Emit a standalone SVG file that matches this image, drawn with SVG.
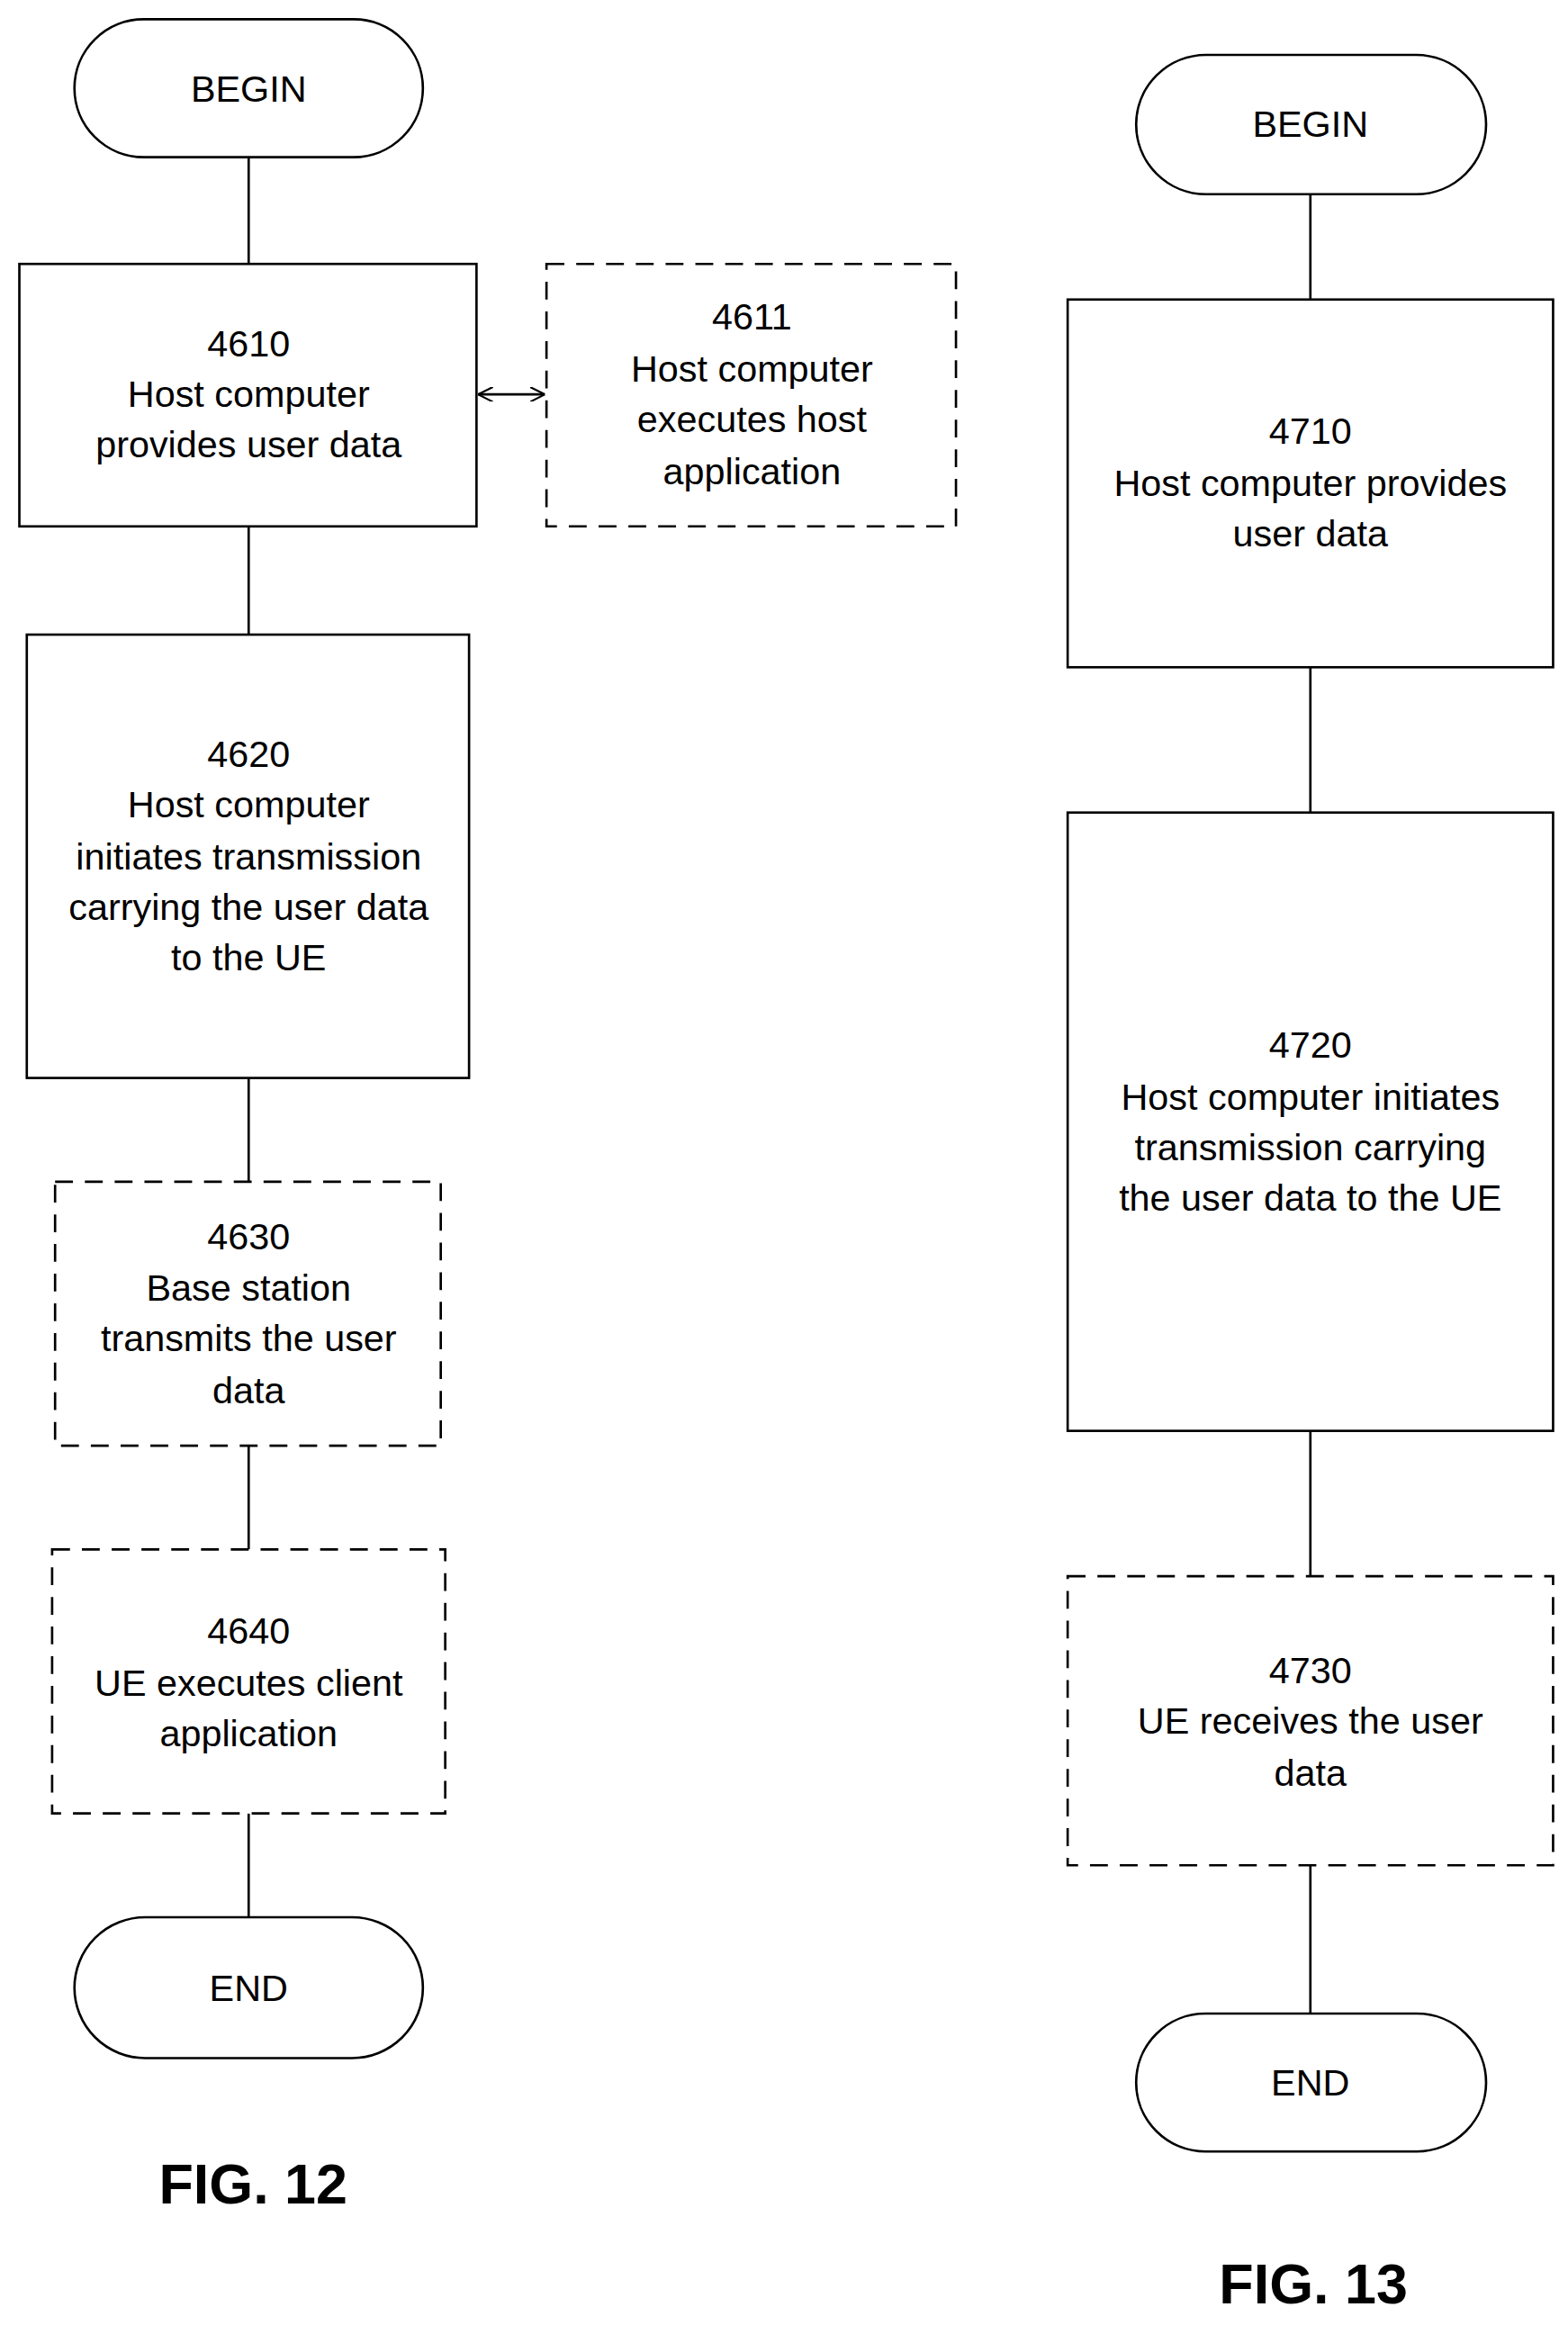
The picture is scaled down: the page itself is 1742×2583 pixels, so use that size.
<svg xmlns="http://www.w3.org/2000/svg" width="1742" height="2583" viewBox="0 0 1742 2583">
<style>
.b{fill:#fff;stroke:#000;stroke-width:1.6}
.d{fill:#fff;stroke:#000;stroke-width:1.6;stroke-dasharray:12 8}
.c line{stroke:#000;stroke-width:1.6}
text{font-family:"Liberation Sans",Arial,sans-serif;font-size:25px;text-anchor:middle;dominant-baseline:central;fill:#000}
.f{font-size:38px;font-weight:bold}
</style>
<defs><marker id="a" viewBox="0 0 10 10" refX="10" refY="5" markerWidth="10" markerHeight="10" markerUnits="userSpaceOnUse" orient="auto-start-reverse"><path d="M0,0L10,5L0,10" fill="none" stroke="#000" stroke-width="1.3"/></marker></defs>
<rect width="1742" height="2583" fill="#fff"/>
<g transform="scale(1.6543 1.6473)">
<g class="c" id="connectors">
<line x1="167" y1="106" x2="167" y2="178"/>
<line x1="321" y1="266" x2="366" y2="266" marker-start="url(#a)" marker-end="url(#a)"/>
<line x1="167" y1="355" x2="167" y2="428"/>
<line x1="167" y1="727" x2="167" y2="797"/>
<line x1="167" y1="975" x2="167" y2="1045"/>
<line x1="167" y1="1223" x2="167" y2="1293"/>
<line x1="880" y1="131" x2="880" y2="202"/>
<line x1="880" y1="450" x2="880" y2="548"/>
<line x1="880" y1="965" x2="880" y2="1063"/>
<line x1="880" y1="1258" x2="880" y2="1358"/>
</g>
<g id="begin1"><rect class="b" x="50" y="13" width="234" height="93" rx="46.5"/><text x="167" y="60">BEGIN</text></g>
<g id="n4610"><rect class="b" x="13" y="178" width="307" height="177"/><text x="167" y="232">4610</text><text x="167" y="266">Host computer</text><text x="167" y="300">provides user data</text></g>
<g id="n4611"><rect class="d" x="367" y="178" width="275" height="177"/><text x="505" y="214">4611</text><text x="505" y="249">Host computer</text><text x="505" y="283">executes host</text><text x="505" y="318">application</text></g>
<g id="n4620"><rect class="b" x="18" y="428" width="297" height="299"/><text x="167" y="509">4620</text><text x="167" y="543">Host computer</text><text x="167" y="578">initiates transmission</text><text x="167" y="612">carrying the user data</text><text x="167" y="646">to the UE</text></g>
<g id="n4630"><rect class="d" x="37" y="797" width="259" height="178"/><text x="167" y="834">4630</text><text x="167" y="869">Base station</text><text x="167" y="903">transmits the user</text><text x="167" y="938">data</text></g>
<g id="n4640"><rect class="d" x="35" y="1045" width="264" height="178"/><text x="167" y="1100">4640</text><text x="167" y="1135">UE executes client</text><text x="167" y="1169">application</text></g>
<g id="end1"><rect class="b" x="50" y="1293" width="234" height="95" rx="47.5"/><text x="167" y="1341">END</text></g>
<text class="f" x="170" y="1473">FIG. 12</text>
<g id="begin2"><rect class="b" x="763" y="37" width="235" height="94" rx="47"/><text x="880" y="84">BEGIN</text></g>
<g id="n4710"><rect class="b" x="717" y="202" width="326" height="248"/><text x="880" y="291">4710</text><text x="880" y="326">Host computer provides</text><text x="880" y="360">user data</text></g>
<g id="n4720"><rect class="b" x="717" y="548" width="326" height="417"/><text x="880" y="705">4720</text><text x="880" y="740">Host computer initiates</text><text x="880" y="774">transmission carrying</text><text x="880" y="808">the user data to the UE</text></g>
<g id="n4730"><rect class="d" x="717" y="1063" width="326" height="195"/><text x="880" y="1127">4730</text><text x="880" y="1161">UE receives the user</text><text x="880" y="1196">data</text></g>
<g id="end2"><rect class="b" x="763" y="1358" width="235" height="93" rx="46.5"/><text x="880" y="1405">END</text></g>
<text class="f" x="882" y="1540">FIG. 13</text>
</g>
</svg>
